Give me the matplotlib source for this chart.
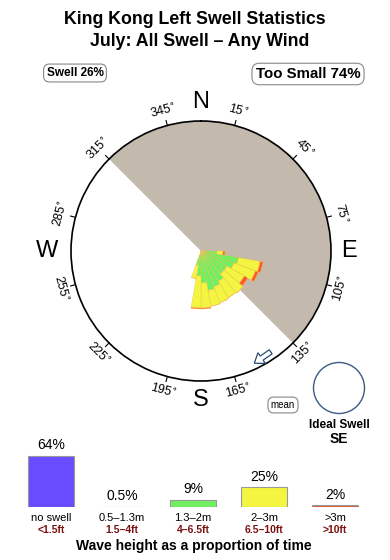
import numpy as np
import matplotlib.pyplot as plt
from matplotlib.patches import FancyArrow, Circle

# swell rose: direction bins (deg, where swell comes from) and band lengths
dir_centers = [95, 105, 115, 125, 135, 145, 155, 165, 175, 185, 195]
grey_len = [2, 3, 3, 3, 3, 3, 3, 3, 3, 2, 1]
green_len = [14, 35, 32, 27, 27, 32, 35, 37, 29, 23, 14]
yellow_len = [6, 22, 23, 20, 25, 19, 17, 16, 25, 32, 13]
red_len = [2, 3, 3, 4, 0, 0, 0, 0, 1, 1, 0]
bin_width = 10

tick_dirs = [15, 45, 75, 105, 135, 165, 195, 225, 255, 285, 315, 345]
offshore_from, offshore_to = 315, 135   # shaded sector
mean_dir = 150

# wave height summary
cat_names = ['no swell', '0.5\u20131.3m', '1.3\u20132m', '2\u20133m', '>3m']
cat_feet = ['<1.5ft', '1.5\u20134ft', '4\u20136.5ft', '6.5\u201310ft', '>10ft']
cat_pct = [64, 0.5, 9, 25, 2]
cat_colors = ['#6a4cff', '#c8cccc', '#70f060', '#f4f540', '#e0582e']

plt.rcParams['font.family'] = ['Liberation Sans', 'DejaVu Sans']

W, H = 390, 560
fig = plt.figure(figsize=(W / 100, H / 100), dpi=100)


def fx(x):
    return x / W


def fy(y):
    return 1 - y / H


# ---- rose ----
cx, cy, R = 201, 251, 130
rose = fig.add_axes([fx(cx - R), fy(cy + R), 2 * R / W, 2 * R / H], projection='polar')
rose.set_theta_zero_location('N')
rose.set_theta_direction(-1)
rose.set_ylim(0, R)
rose.grid(False)
rose.set_xticks([])
rose.set_yticks([])
rose.spines['polar'].set_linewidth(1.2)

span = (offshore_to - offshore_from) % 360
rose.bar(np.radians(offshore_from + span / 2), R, width=np.radians(span),
         color='#c3b9ad', edgecolor='none', zorder=0)

th = np.radians(dir_centers)
wd = np.radians(bin_width)
bottom = np.zeros(len(dir_centers))
for lens, col in [(grey_len, cat_colors[1]), (green_len, cat_colors[2]),
                  (yellow_len, cat_colors[3]), (red_len, '#ff5a28')]:
    lens = np.array(lens, dtype=float)
    rose.bar(th, lens, width=wd, bottom=bottom, color=col,
             edgecolor='#f0c050', linewidth=0.3, zorder=2)
    bottom += lens

for b in tick_dirs:
    t = np.radians(b)
    rose.plot([t, t], [R, R + 5], color='k', lw=0.8, clip_on=False)
    rot = (-b) % 180
    if rot > 90:
        rot -= 180
    rose.text(t, R + 15, '%d$^{\\circ}$' % b, rotation=rot, rotation_mode='anchor',
              ha='center', va='center', fontsize=9)

for lab, b, r in [('N', 0, 149), ('E', 90, 148), ('S', 180, 149), ('W', 270, 154)]:
    rose.text(np.radians(b), r, lab, ha='center', va='center', fontsize=17)

# ---- overlay for texts / annotations ----
ov = fig.add_axes([0, 0, 1, 1], zorder=5)
ov.set_xlim(0, W)
ov.set_ylim(H, 0)
ov.axis('off')

ov.text(195, 19, 'King Kong Left Swell Statistics', ha='center', va='center',
        fontsize=12.8, fontweight='bold')
ov.text(200, 42, 'July: All Swell \u2013 Any Wind', ha='center', va='center',
        fontsize=12.8, fontweight='bold')

box = dict(boxstyle='round,pad=0.25,rounding_size=0.5', fc='white', ec='#888888', lw=0.8)
ov.text(75, 73, 'Swell 26%', ha='center', va='center', fontsize=8.5,
        fontweight='bold', bbox=box)
ov.text(308, 74, 'Too Small 74%', ha='center', va='center', fontsize=10.8,
        fontweight='bold', bbox=box)

# mean direction arrow (hollow) just inside the rim
mt = np.radians(mean_dir)
ax_, ay_ = cx + 123 * np.sin(mt), cy - 123 * np.cos(mt)
dx, dy = -np.cos(np.radians(35)), np.sin(np.radians(35))
ov.add_patch(FancyArrow(ax_ - 10 * dx, ay_ - 10 * dy, 20 * dx, 20 * dy,
                        width=5, head_width=13, head_length=9, length_includes_head=True,
                        fc='white', ec='#2a4a70', lw=0.9))
ov.text(283, 405, 'mean', ha='center', va='center', fontsize=7,
        bbox=dict(boxstyle='round,pad=0.3,rounding_size=0.6', fc='white',
                  ec='#888888', lw=0.8))

ov.add_patch(Circle((339, 388), 25.5, fill=False, ec='#3a5a80', lw=1))
ov.text(339, 425, 'Ideal Swell', ha='center', va='center', fontsize=8.5, fontweight='bold')
ov.text(339, 439, 'SE', ha='center', va='center', fontsize=10, fontweight='bold')

ov.text(194, 546, 'Wave height as a proportion of time', ha='center', va='center',
        fontsize=10, fontweight='bold')

# ---- wave height bars ----
bax = fig.add_axes([fx(15.5), fy(507), 355 / W, 80 * 0.8 / H])
bax.set_xlim(-0.5, 4.5)
bax.set_ylim(0, 80)
bax.axis('off')
x = np.arange(len(cat_pct))
bax.bar(x, cat_pct, width=0.634, color=cat_colors, edgecolor='#999999', lw=0.8)
for i, p in enumerate(cat_pct):
    bax.annotate('%g%%' % p, (i, p), xytext=(0, 2.5), textcoords='offset points',
                 ha='center', va='bottom', fontsize=10)
    bax.annotate(cat_names[i], (i, 0), xytext=(0, -7.6), textcoords='offset points',
                 ha='center', va='center', fontsize=8, annotation_clip=False)
    bax.annotate(cat_feet[i], (i, 0), xytext=(0, -16.8), textcoords='offset points',
                 ha='center', va='center', fontsize=7.5, color='#7a1010',
                 fontweight='bold', annotation_clip=False)

fig.savefig('out.png', dpi=100)
